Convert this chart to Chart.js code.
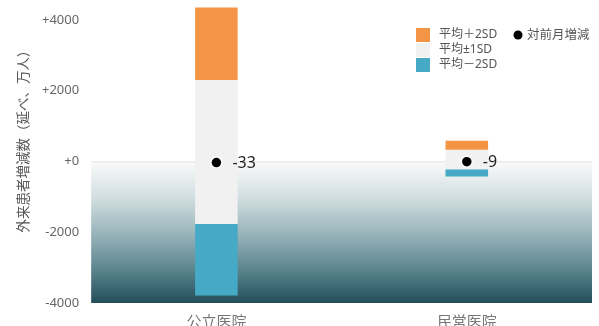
<!DOCTYPE html>
<html>
<head>
<meta charset="utf-8">
<script src="https://cdn.jsdelivr.net/npm/chart.js@4"></script>
<style>
  html, body { margin: 0; padding: 0; background: #fff; }
  #wrap { width: 599px; height: 326px; }
</style>
</head>
<body>
<div id="wrap"><canvas id="chart"></canvas></div>
<script>
// 病院種別ごとの外来患者増減数（万人）
const categories = ['公立医院', '民営医院'];
const plus2sd = [4350, 585];
const plus1sd = [2300, 330];
const minus1sd = [-1770, -220];
const minus2sd = [-3790, -425];
const monthChange = [-33, -9];
const yTicks = [-4000, -2000, 0, 2000, 4000];
const yTitle = '外来患者増減数（延べ、万人）';

const FONT = "'Noto Sans', 'Noto Sans CJK JP', sans-serif";
const ORANGE = '#f39545';
const GRAY = '#f1f1f1';
const BLUE = '#46aac6';

// 0より下の背景グラデーション
const bgBand = {
    id: 'bgBand',
    beforeDatasetsDraw(chart) {
        const { ctx, chartArea: a, scales: { y } } = chart;
        const y0 = y.getPixelForValue(0);
        const g = ctx.createLinearGradient(0, y0, 0, a.bottom);
        g.addColorStop(0, '#fafafb');
        g.addColorStop(0.25, '#d3dfe1');
        g.addColorStop(0.5, '#9bb6bc');
        g.addColorStop(0.75, '#5e8891');
        g.addColorStop(1, '#224e5b');
        ctx.save();
        ctx.fillStyle = g;
        ctx.fillRect(a.left, y0, a.right - a.left, a.bottom - y0);
        ctx.strokeStyle = '#e2e2e2';
        ctx.lineWidth = 1;
        ctx.beginPath();
        ctx.moveTo(a.left, y0 + 0.5);
        ctx.lineTo(a.right, y0 + 0.5);
        ctx.stroke();
        ctx.restore();
    }
};

// 点の横に数値、右上に凡例、縦軸タイトル
const extras = {
    id: 'extras',
    afterDatasetsDraw(chart) {
        const { ctx } = chart;
        const meta = chart.getDatasetMeta(3);
        ctx.save();
        ctx.font = '16px ' + FONT;
        ctx.fillStyle = '#222';
        ctx.textBaseline = 'middle';
        meta.data.forEach((pt, i) => {
            ctx.fillText(String(monthChange[i]), pt.x + 16, pt.y + 1);
        });

        const items = [
            { label: '平均＋2SD', color: ORANGE },
            { label: '平均±1SD', color: GRAY },
            { label: '平均－2SD', color: BLUE }
        ];
        ctx.font = '12px ' + FONT;
        items.forEach((it, i) => {
            const cy = 35 + i * 15;
            ctx.fillStyle = it.color;
            ctx.fillRect(416, cy - 7, 14, 14);
            ctx.fillStyle = '#555';
            ctx.fillText(it.label, 439, cy);
        });
        ctx.fillStyle = '#000';
        ctx.beginPath();
        ctx.arc(518, 35, 4.5, 0, Math.PI * 2);
        ctx.fill();
        ctx.fillStyle = '#555';
        ctx.font = '12.5px ' + FONT;
        ctx.fillText('対前月増減', 527, 35);

        ctx.translate(24, 138);
        ctx.rotate(-Math.PI / 2);
        ctx.textAlign = 'center';
        ctx.font = '13.5px ' + FONT;
        ctx.fillStyle = '#555';
        ctx.fillText(yTitle, 0, 0);
        ctx.restore();
    }
};

const bar = (label, data, color) => ({
    label, data,
    backgroundColor: color,
    barPercentage: 0.17,
    categoryPercentage: 1,
    clip: false,
    order: 1
});

const ctx = document.getElementById('chart').getContext('2d');
new Chart(ctx, {
    type: 'bar',
    data: {
        labels: categories,
        datasets: [
            bar('平均＋2SD', categories.map((_, i) => [plus1sd[i], plus2sd[i]]), ORANGE),
            bar('平均±1SD', categories.map((_, i) => [minus1sd[i], plus1sd[i]]), GRAY),
            bar('平均－2SD', categories.map((_, i) => [minus2sd[i], minus1sd[i]]), BLUE),
            {
                type: 'line',
                label: '対前月増減',
                data: monthChange,
                showLine: false,
                pointRadius: 5.5,
                pointBackgroundColor: '#000',
                pointBorderColor: '#fff',
                pointBorderWidth: 1.5,
                order: 0
            }
        ]
    },
    options: {
        responsive: true,
        maintainAspectRatio: false,
        animation: false,
        layout: { padding: { top: 2, right: 0, bottom: -17, left: 30 } },
        plugins: {
            legend: { display: false },
            tooltip: { enabled: false }
        },
        scales: {
            x: {
                stacked: true,
                grid: { display: false, drawTicks: false },
                border: { display: false },
                ticks: {
                    color: '#777',
                    padding: 11,
                    font: { family: FONT, size: 15 }
                }
            },
            y: {
                min: -4000,
                max: 4000,
                grid: { display: false, drawTicks: false },
                border: { display: false },
                afterBuildTicks(axis) {
                    axis.ticks = yTicks.map(v => ({ value: v }));
                },
                ticks: {
                    color: '#666',
                    padding: 12,
                    font: { family: FONT, size: 13 },
                    callback: v => (v >= 0 ? '+' : '') + v
                }
            }
        }
    },
    plugins: [bgBand, extras]
});
</script>
</body>
</html>
